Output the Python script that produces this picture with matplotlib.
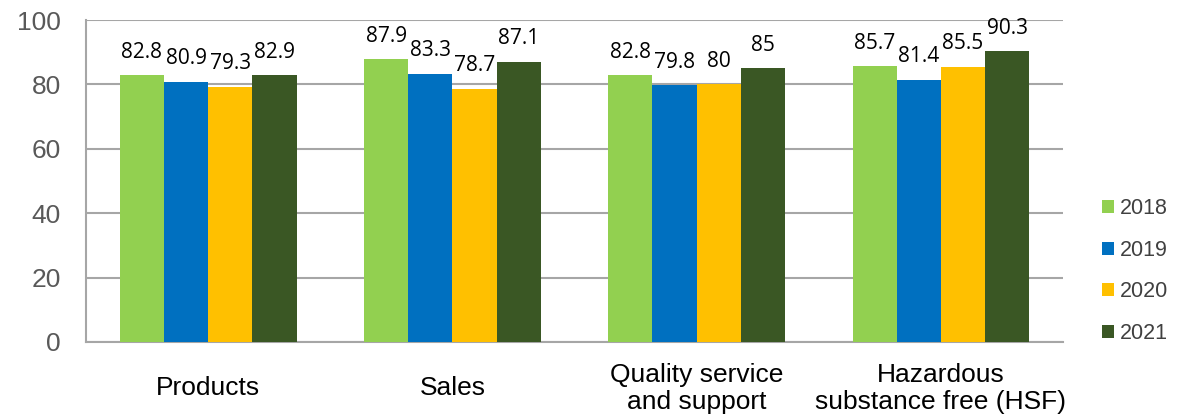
import matplotlib
matplotlib.use("Agg")
import matplotlib.pyplot as plt
import numpy as np

categories = ["Products", "Sales", "Quality service\nand support", "Hazardous\nsubstance free (HSF)"]
years = ["2018", "2019", "2020", "2021"]
values = {
    "2018": [82.8, 87.9, 82.8, 85.7],
    "2019": [80.9, 83.3, 79.8, 81.4],
    "2020": [79.3, 78.7, 80, 85.5],
    "2021": [82.9, 87.1, 85, 90.3],
}
colors = ["#92D050", "#0070C0", "#FFC000", "#3A5724"]

fig = plt.figure(figsize=(11.93, 4.18), dpi=100)
ax = fig.add_axes([0.0721, 0.182, 0.819, 0.770])

x = np.arange(len(categories))
w = 0.181
for i, (yr, c) in enumerate(zip(years, colors)):
    xs = x + (i - 1.5) * w
    bars = ax.bar(xs, values[yr], width=w, color=c, label=yr, zorder=3)
    for b, v in zip(bars, values[yr]):
        ax.annotate(f"{v:g}", (b.get_x() + b.get_width() / 2, v),
                    xytext=(0, 9), textcoords="offset points",
                    ha="center", va="bottom", fontsize=15,
                    family="Open Sans", color="black")

ax.set_xlim(-0.5, 3.5)
ax.set_ylim(0, 100)
ax.set_yticks([0, 20, 40, 60, 80, 100])
ax.yaxis.grid(True, color="#A6A6A6", linewidth=1.5, zorder=0)
ax.set_axisbelow(True)
for s in ["top", "right"]:
    ax.spines[s].set_visible(False)
for s in ["left", "bottom"]:
    ax.spines[s].set_color("#A6A6A6")
    ax.spines[s].set_linewidth(1.5)
ax.tick_params(axis="y", length=0, pad=18, labelsize=19, labelcolor="#595959")
ax.tick_params(axis="x", length=0, pad=33.5)
for lab in ax.get_yticklabels():
    lab.set_family("Liberation Sans")
ax.set_xticks(x)
ax.set_xticklabels(categories, fontsize=19, family="Liberation Sans",
                   va="center", linespacing=1.15)

leg = ax.legend(loc="center left", bbox_to_anchor=(1.02, 0.22),
                frameon=False, handlelength=0.55, handleheight=0.55,
                handletextpad=0.3, labelspacing=0.95,
                prop={"family": "Liberation Sans", "size": 15.5})
for t in leg.get_texts():
    t.set_color("#404040")

fig.savefig("out.png", dpi=100)
